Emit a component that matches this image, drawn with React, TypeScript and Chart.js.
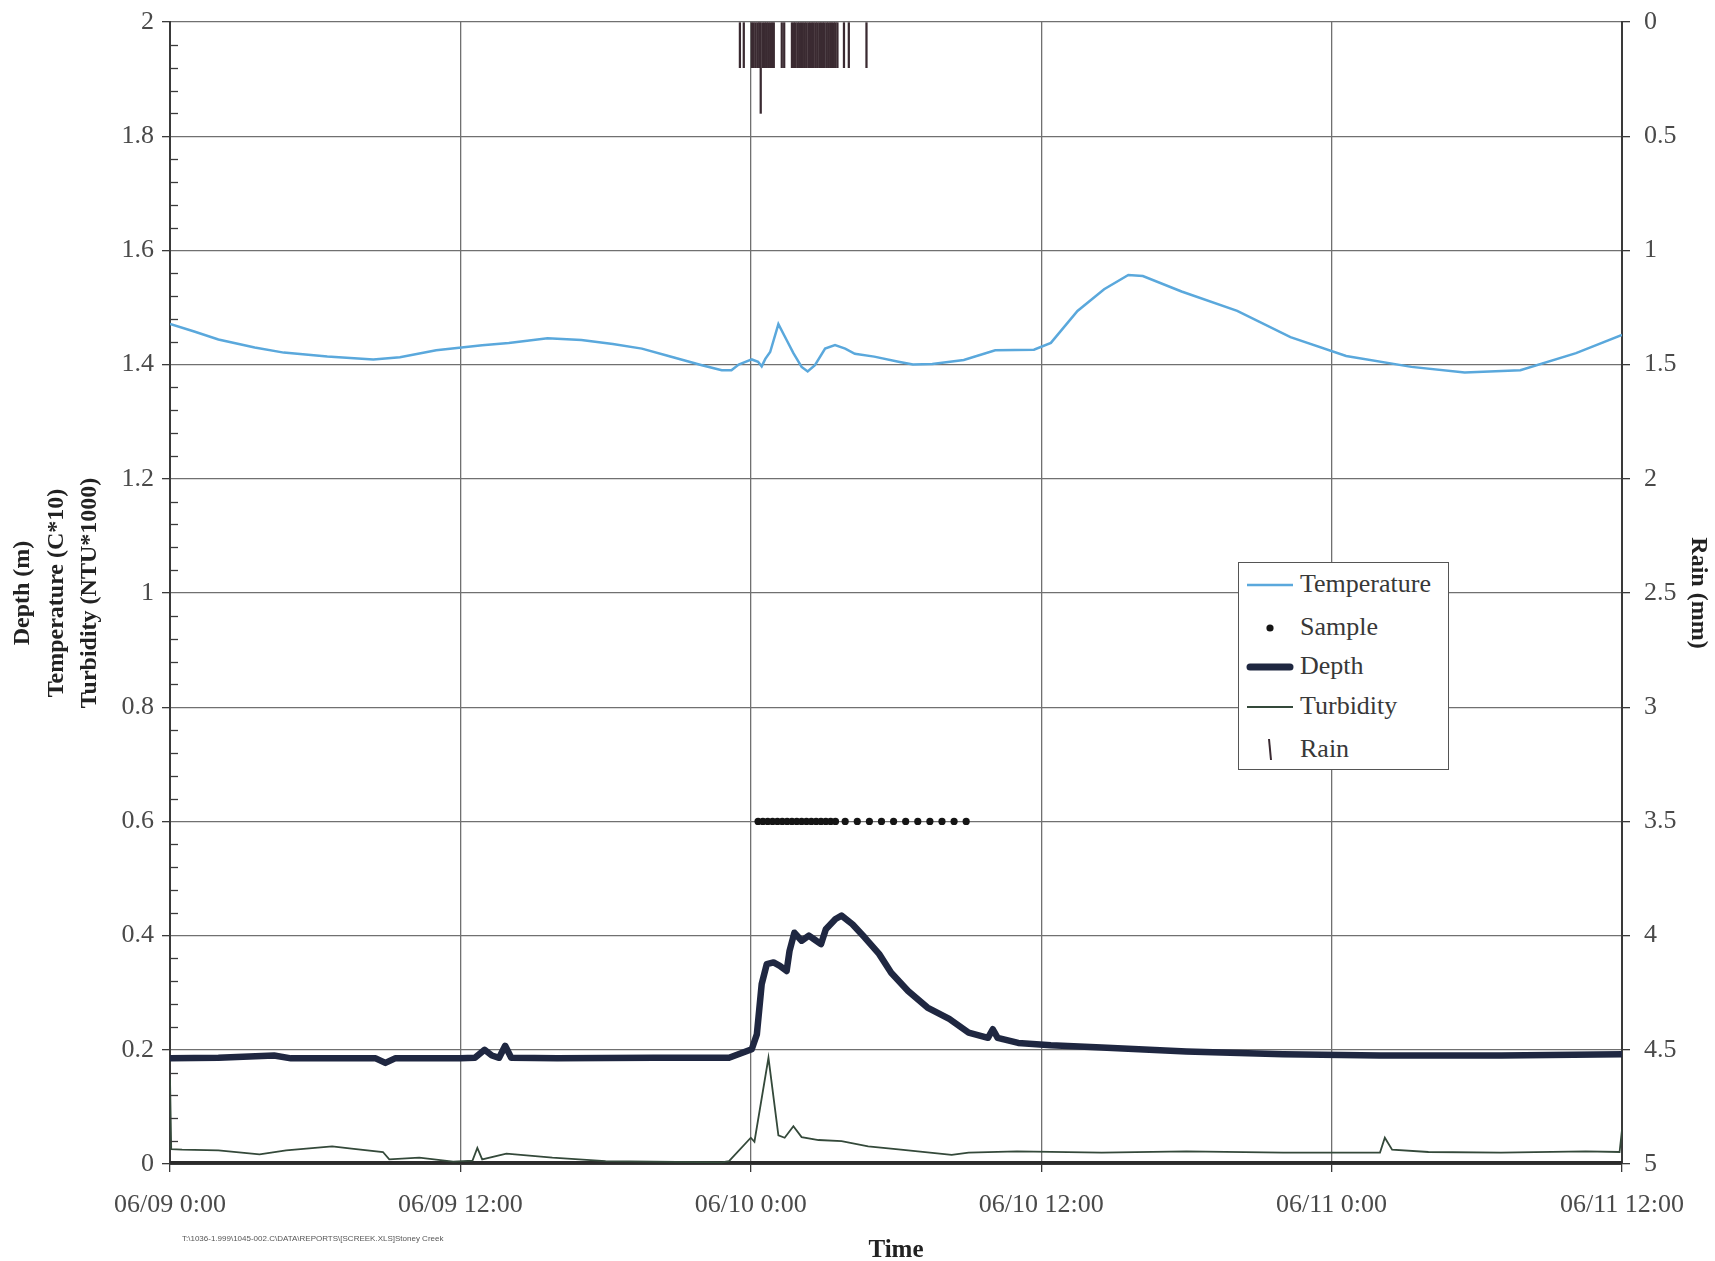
import React, { useEffect, useRef } from "react";
import { Chart, registerables } from "chart.js";

Chart.register(...registerables);

// ---------- tick labels ----------
const xTickLabels = ["06/09 0:00", "06/09 12:00", "06/10 0:00", "06/10 12:00", "06/11 0:00", "06/11 12:00"];
const leftTickLabels = ["0", "0.2", "0.4", "0.6", "0.8", "1", "1.2", "1.4", "1.6", "1.8", "2"];
const rainTickLabels = ["0", "0.5", "1", "1.5", "2", "2.5", "3", "3.5", "4", "4.5", "5"];

// ---------- series (x = hours since 06/09 0:00) ----------
const tempHours = [0, 1, 2, 3.5, 4.7, 6.5, 8.4, 9.5, 11, 12.9, 14, 15.6, 17, 18.3, 19.5, 20.6, 21.98, 22.8, 23.2, 23.5, 24.04, 24.3, 24.45, 24.6, 24.8, 25.14, 25.48, 25.76, 26.1, 26.35, 26.65, 27.07, 27.48, 27.9, 28.3, 29.1, 30.1, 30.7, 31.5, 32.8, 34.1, 35.7, 36.4, 37.5, 38.6, 39.6, 40.2, 41.8, 44.1, 46.3, 48.6, 51.3, 53.5, 55.8, 58.1, 60];
const tempValues = [1.471, 1.458, 1.444, 1.43, 1.421, 1.414, 1.409, 1.413, 1.425, 1.434, 1.438, 1.446, 1.443, 1.436, 1.428, 1.415, 1.399, 1.39, 1.39, 1.4, 1.409, 1.405, 1.397, 1.41, 1.422, 1.471, 1.443, 1.42, 1.396, 1.388, 1.399, 1.428, 1.434, 1.428, 1.419, 1.414, 1.405, 1.4, 1.401, 1.408, 1.425, 1.426, 1.438, 1.494, 1.532, 1.557, 1.555, 1.528, 1.494, 1.448, 1.415, 1.396, 1.386, 1.39, 1.42, 1.452];

const depthHours = [0, 2, 4.3, 5, 8.5, 8.9, 9.3, 12, 12.6, 13, 13.3, 13.6, 13.85, 14.1, 16, 20, 22.5, 23.1, 24.04, 24.25, 24.45, 24.66, 24.94, 25.2, 25.48, 25.6, 25.8, 26.1, 26.4, 26.6, 26.9, 27.1, 27.5, 27.75, 28.2, 28.7, 29.3, 29.8, 30.5, 31.3, 32.2, 33, 33.8, 34, 34.2, 35.05, 36.4, 38.5, 42, 46, 50, 55, 60];
const depthValues = [0.185, 0.186, 0.19, 0.185, 0.185, 0.177, 0.185, 0.185, 0.186, 0.2, 0.19, 0.186, 0.207, 0.186, 0.185, 0.186, 0.186, 0.186, 0.201, 0.227, 0.315, 0.35, 0.353, 0.347, 0.338, 0.373, 0.405, 0.391, 0.4, 0.394, 0.385, 0.411, 0.429, 0.435, 0.42, 0.397, 0.368, 0.335, 0.303, 0.274, 0.254, 0.23, 0.221, 0.236, 0.221, 0.212, 0.208, 0.204, 0.197, 0.192, 0.19, 0.19, 0.192];

const turbHours = [0, 0.05, 0.5, 2, 3.7, 4.8, 6.7, 7.5, 8.8, 9.06, 10.3, 11.7, 12.5, 12.7, 12.9, 13.9, 15.8, 18, 20, 22.8, 23.1, 24.0, 24.15, 24.73, 25.14, 25.4, 25.76, 26.1, 26.8, 27.75, 28.85, 30.2, 32.3, 33, 35, 38.5, 42, 46, 50, 50.2, 50.5, 52, 55, 58.5, 59.9, 60];
const turbValues = [0.15, 0.026, 0.025, 0.024, 0.017, 0.024, 0.031, 0.027, 0.021, 0.008, 0.011, 0.004, 0.006, 0.028, 0.008, 0.018, 0.011, 0.005, 0.004, 0.003, 0.005, 0.046, 0.039, 0.186, 0.05, 0.046, 0.066, 0.047, 0.042, 0.04, 0.031, 0.025, 0.016, 0.02, 0.022, 0.02, 0.022, 0.02, 0.02, 0.046, 0.025, 0.021, 0.02, 0.022, 0.021, 0.06];

const sampleHours = [24.3, 24.5, 24.7, 24.9, 25.1, 25.3, 25.5, 25.7, 25.9, 26.1, 26.3, 26.5, 26.7, 26.9, 27.1, 27.3, 27.5, 27.9, 28.4, 28.9, 29.4, 29.9, 30.4, 30.9, 31.4, 31.9, 32.4, 32.9];
const sampleLevel = 0.6;

const rainHours = [23.55, 23.71, 24.05, 24.12, 24.2, 24.28, 24.35, 24.41, 24.5, 24.58, 24.65, 24.72, 24.8, 24.88, 24.95, 25.28, 25.38, 25.7, 25.78, 25.85, 25.93, 26.0, 26.08, 26.15, 26.23, 26.3, 26.38, 26.45, 26.53, 26.6, 26.68, 26.75, 26.83, 26.9, 26.98, 27.05, 27.13, 27.2, 27.28, 27.35, 27.43, 27.5, 27.58, 27.85, 28.05, 28.78];
const rainValues = [0.2, 0.2, 0.2, 0.2, 0.2, 0.2, 0.2, 0.4, 0.2, 0.2, 0.2, 0.2, 0.2, 0.2, 0.2, 0.2, 0.2, 0.2, 0.2, 0.2, 0.2, 0.2, 0.2, 0.2, 0.2, 0.2, 0.2, 0.2, 0.2, 0.2, 0.2, 0.2, 0.2, 0.2, 0.2, 0.2, 0.2, 0.2, 0.2, 0.2, 0.2, 0.2, 0.2, 0.2, 0.2, 0.2];

const zeroHours = [0, 60];
const zeroValues = [0, 0];

const FONT = "'Liberation Serif', 'Times New Roman', serif";
const TEMP_COLOR = "#5aa8dc";
const DEPTH_COLOR = "#1f2741";
const TURB_COLOR = "#34493a";
const RAIN_COLOR = "#3a2a31";
const GRID = "#707070";
const AXIS = "#3a3a3a";
const TICK_TEXT = "#4a4a4a";

const pts = (xs: number[], ys: number[]) => xs.map((x, i) => ({ x, y: ys[i] }));

const minorTicksPlugin = {
  id: "minorTicks",
  afterDatasetsDraw(chart: any) {
    const y = chart.scales.y;
    const ctx = chart.ctx;
    const left = chart.chartArea.left;
    ctx.save();
    ctx.strokeStyle = AXIS;
    ctx.lineWidth = 1.3;
    for (let i = 1; i < 50; i++) {
      if (i % 5 === 0) continue;
      const py = Math.round(y.getPixelForValue(i * 0.04)) + 0.5;
      ctx.beginPath();
      ctx.moveTo(left - 1, py);
      ctx.lineTo(left + 8, py);
      ctx.stroke();
    }
    ctx.restore();
  },
};

const legendItems = ["Temperature", "Sample", "Depth", "Turbidity", "Rain"];

export default function App() {
  const canvasRef = useRef<HTMLCanvasElement | null>(null);

  useEffect(() => {
    if (!canvasRef.current) return;
    const chart = new Chart(canvasRef.current, {
      type: "line",
      data: {
        datasets: [
          {
            type: "bar",
            label: "Rain",
            data: pts(rainHours, rainValues),
            yAxisID: "y2",
            backgroundColor: RAIN_COLOR,
            borderWidth: 0,
            barThickness: 1.6,
            order: 0,
          } as any,
          {
            label: "Sample",
            data: sampleHours.map((x) => ({ x, y: sampleLevel })),
            yAxisID: "y",
            showLine: false,
            pointRadius: 3.6,
            pointBackgroundColor: "#151515",
            pointBorderWidth: 0,
            borderColor: "#151515",
            order: 1,
          },
          {
            label: "Temperature",
            data: pts(tempHours, tempValues),
            yAxisID: "y",
            borderColor: TEMP_COLOR,
            borderWidth: 2.5,
            pointRadius: 0,
            tension: 0,
            order: 2,
          },
          {
            label: "Depth",
            data: pts(depthHours, depthValues),
            yAxisID: "y",
            borderColor: DEPTH_COLOR,
            borderWidth: 6.5,
            borderJoinStyle: "round",
            borderCapStyle: "round",
            pointRadius: 0,
            tension: 0,
            order: 3,
          },
          {
            label: "Turbidity",
            data: pts(turbHours, turbValues),
            yAxisID: "y",
            borderColor: TURB_COLOR,
            borderWidth: 1.8,
            pointRadius: 0,
            tension: 0,
            order: 4,
          },
          {
            label: "zero",
            data: pts(zeroHours, zeroValues),
            yAxisID: "y",
            borderColor: "#2b2b2b",
            borderWidth: 6,
            pointRadius: 0,
            order: 5,
          },
        ],
      },
      options: {
        responsive: false,
        animation: false,
        devicePixelRatio: 1,
        layout: { padding: { top: 22, left: 0, right: 0, bottom: 0 } },
        plugins: { legend: { display: false }, tooltip: { enabled: false } },
        scales: {
          x: {
            type: "linear",
            position: "bottom",
            min: 0,
            max: 60,
            offset: false,
            ticks: {
              stepSize: 12,
              autoSkip: false,
              maxRotation: 0,
              padding: 18,
              color: TICK_TEXT,
              font: { family: FONT, size: 26 },
              callback: (v: any) => xTickLabels[Math.round(Number(v) / 12)] ?? "",
            },
            grid: { color: GRID, lineWidth: 1.3, tickLength: 8, offset: false, tickColor: AXIS },
            border: { display: true, color: AXIS, width: 2 },
            title: {
              display: true,
              text: "Time",
              color: "#222",
              font: { family: FONT, size: 25, weight: "bold", lineHeight: 0.8 },
              padding: { top: 0, bottom: 0 },
            },
            afterFit: (s: any) => {
              s.height = 97;
              s.paddingLeft = 0;
              s.paddingRight = 0;
            },
          },
          y: {
            type: "linear",
            position: "left",
            min: 0,
            max: 2,
            ticks: {
              stepSize: 0.2,
              padding: 8,
              color: TICK_TEXT,
              font: { family: FONT, size: 26 },
              callback: (v: any) => leftTickLabels[Math.round(Number(v) / 0.2)] ?? "",
            },
            grid: { color: GRID, lineWidth: 1.3, tickLength: 8, tickColor: AXIS },
            border: { display: true, color: AXIS, width: 2 },
            title: {
              display: true,
              text: ["Depth (m)", "Temperature (C*10)", "Turbidity (NTU*1000)"],
              color: "#222",
              font: { family: FONT, size: 24, weight: "bold", lineHeight: 1.4 },
              padding: { top: 6, bottom: 0 },
            },
            afterFit: (s: any) => {
              s.width = 170;
              s.paddingTop = 0;
              s.paddingBottom = 0;
            },
          },
          y2: {
            type: "linear",
            position: "right",
            reverse: true,
            min: 0,
            max: 5,
            ticks: {
              stepSize: 0.5,
              padding: 14,
              color: TICK_TEXT,
              font: { family: FONT, size: 26 },
              callback: (v: any) => rainTickLabels[Math.round(Number(v) / 0.5)] ?? "",
            },
            grid: { drawOnChartArea: false, tickLength: 8, color: AXIS, lineWidth: 1.3 },
            border: { display: true, color: AXIS, width: 2 },
            title: {
              display: true,
              text: "Rain (mm)",
              color: "#222",
              font: { family: FONT, size: 24, weight: "bold", lineHeight: 1.4 },
              padding: { top: 0, bottom: 0 },
            },
            afterFit: (s: any) => {
              s.width = 93;
              s.paddingTop = 0;
              s.paddingBottom = 0;
            },
          },
        },
      } as any,
      plugins: [minorTicksPlugin],
    });
    return () => chart.destroy();
  }, []);

  const legendTop = 562;
  const rowYs = [585, 628, 667, 707, 750];

  return (
    <div style={{ position: "fixed", left: 0, top: 0, width: 1715, height: 1261, background: "#fff", overflow: "hidden" }}>
      <canvas ref={canvasRef} width={1715} height={1261} style={{ display: "block", width: 1715, height: 1261 }} />
      <div
        style={{
          position: "absolute",
          left: 1238,
          top: legendTop,
          width: 211,
          height: 208,
          border: "1.5px solid #555",
          background: "#fff",
          boxSizing: "border-box",
        }}
      />
      <svg style={{ position: "absolute", left: 0, top: 0 }} width={1715} height={1261}>
        <line x1={1247} x2={1293} y1={rowYs[0]} y2={rowYs[0]} stroke={TEMP_COLOR} strokeWidth={2.5} />
        <circle cx={1270} cy={rowYs[1]} r={3.6} fill="#151515" />
        <line x1={1250} x2={1290} y1={rowYs[2]} y2={rowYs[2]} stroke={DEPTH_COLOR} strokeWidth={7} strokeLinecap="round" />
        <line x1={1247} x2={1293} y1={rowYs[3]} y2={rowYs[3]} stroke={TURB_COLOR} strokeWidth={2} />
        <line x1={1269} x2={1271} y1={rowYs[4] - 11} y2={rowYs[4] + 10} stroke={RAIN_COLOR} strokeWidth={2} />
      </svg>
      {legendItems.map((t, i) => (
        <span
          key={t}
          style={{
            position: "absolute",
            left: 1300,
            top: rowYs[i] - 16,
            fontFamily: FONT,
            fontSize: 26,
            lineHeight: "30px",
            color: "#383838",
            whiteSpace: "nowrap",
          }}
        >
          {t}
        </span>
      ))}
      <span
        style={{
          position: "absolute",
          left: 182,
          top: 1234,
          fontFamily: "'Liberation Sans', Arial, sans-serif",
          fontSize: 8,
          color: "#555",
          whiteSpace: "nowrap",
        }}
      >
        T:\1036-1.999\1045-002.C\DATA\REPORTS\[SCREEK.XLS]Stoney Creek
      </span>
    </div>
  );
}
